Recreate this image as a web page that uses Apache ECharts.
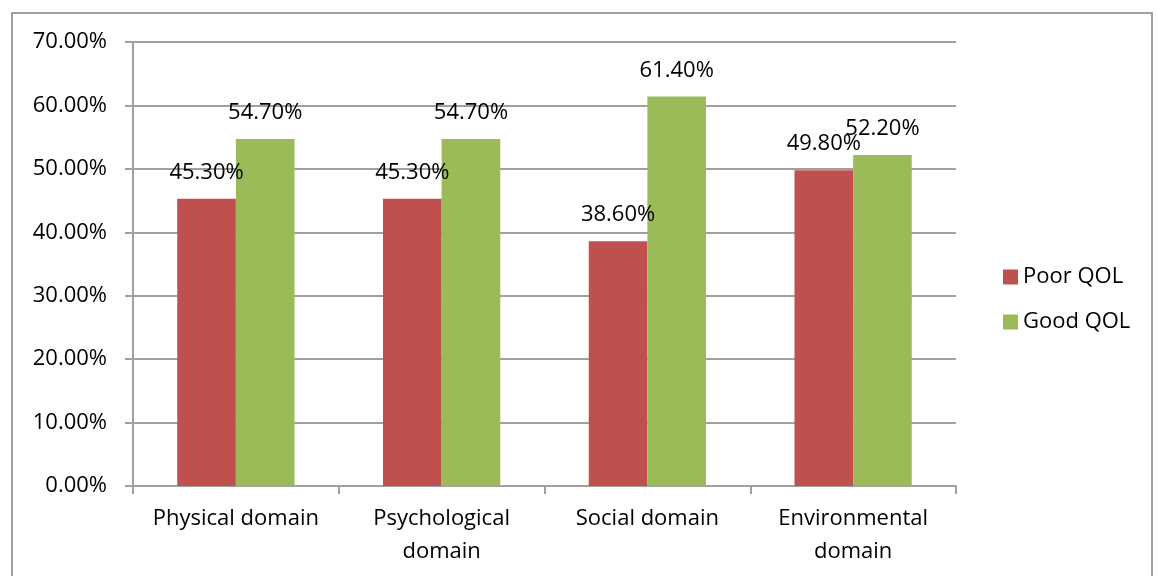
<!DOCTYPE html>
<html>
<head>
<meta charset="utf-8">
<script src="https://cdn.jsdelivr.net/npm/echarts@6/dist/echarts.min.js"></script>
<style>
  html, body { margin: 0; padding: 0; background: #fff; }
  #chart { width: 1158px; height: 576px; }
</style>
</head>
<body>
<div id="chart"></div>
<script>
// domains on the x axis
const categories = ['Physical domain', 'Psychological\ndomain', 'Social domain', 'Environmental\ndomain']
// percentages per group
const poorQOL = [45.3, 45.3, 38.6, 49.8]
const goodQOL = [54.7, 54.7, 61.4, 52.2]
const seriesNames = ['Poor QOL', 'Good QOL']

const font = 'Open Sans'
const gray = '#a0a0a0'

const chart = echarts.init(document.getElementById('chart'))

const barLabel = {
    show: true,
    position: 'top',
    distance: 15,
    color: '#000',
    fontFamily: font,
    fontSize: 22,
    formatter: p => p.value.toFixed(2) + '%'
}

const option = {
    animation: false,
    backgroundColor: '#fff',
    textStyle: { fontFamily: font },
    // outer chart frame
    graphic: [{
        type: 'rect',
        shape: { x: 12, y: 13, width: 1140, height: 600 },
        style: { fill: 'none', stroke: gray, lineWidth: 2 },
        silent: true
    }],
    grid: { left: 133, right: 202, top: 42, bottom: 90 },
    legend: {
        orient: 'vertical',
        left: 998,
        top: 261,
        itemWidth: 15,
        itemHeight: 15,
        itemGap: 23,
        icon: 'rect',
        textStyle: { fontFamily: font, fontSize: 22, color: '#000', lineHeight: 22 },
        data: seriesNames
    },
    xAxis: {
        type: 'category',
        data: categories,
        axisLine: { lineStyle: { color: gray, width: 2 } },
        axisTick: { show: true, length: 8, lineStyle: { color: gray, width: 2 } },
        axisLabel: { color: '#000', fontFamily: font, fontSize: 22, lineHeight: 33, margin: 16, interval: 0 }
    },
    yAxis: {
        type: 'value',
        min: 0,
        max: 70,
        interval: 10,
        axisLine: { show: true, lineStyle: { color: gray, width: 2 } },
        axisTick: { show: true, length: 8, lineStyle: { color: gray, width: 2 } },
        splitLine: { lineStyle: { color: gray, width: 2 } },
        axisLabel: {
            color: '#000', fontFamily: font, fontSize: 22, margin: 26,
            formatter: v => v.toFixed(2) + '%'
        }
    },
    series: [
        {
            name: seriesNames[0],
            type: 'bar',
            data: poorQOL,
            barGap: '0%',
            barCategoryGap: '43%',
            itemStyle: { color: '#c0504d' },
            label: barLabel
        },
        {
            name: seriesNames[1],
            type: 'bar',
            data: goodQOL,
            barGap: '0%',
            barCategoryGap: '43%',
            itemStyle: { color: '#9bbb59' },
            label: barLabel
        }
    ]
}

chart.setOption(option)
</script>
</body>
</html>
